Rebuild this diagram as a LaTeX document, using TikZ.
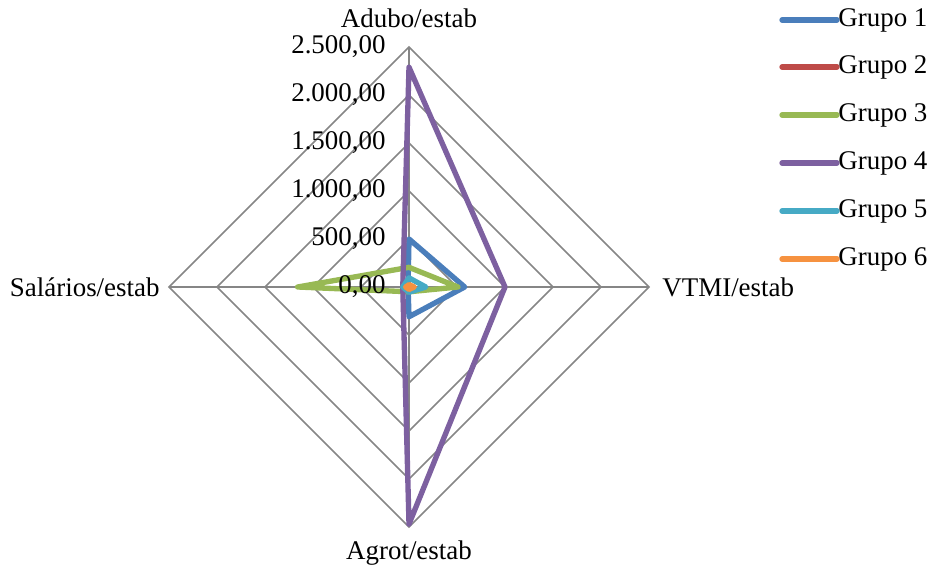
\documentclass[tikz,border=0pt]{standalone}
\usepackage{fontspec}
\setmainfont{Liberation Serif}
\usetikzlibrary{positioning}
\definecolor{gA}{HTML}{4A7EBB}
\definecolor{gB}{HTML}{BE4B48}
\definecolor{gC}{HTML}{98B954}
\definecolor{gD}{HTML}{7D60A0}
\definecolor{gE}{HTML}{46AAC5}
\definecolor{gF}{HTML}{F69240}
\definecolor{grid}{HTML}{868686}
\tikzset{gridline/.style={draw=grid,line width=0.45mm},
         serie/.style={line width=1.6mm,line join=round,line cap=round},
         lab/.style={font=\fontsize{23}{27}\selectfont,inner sep=1pt},
        }
% one series: colour, then Adubo, VTMI, Agrot, Salarios
\newcommand{\radarserie}[5]{%
  \draw[serie,#1](0,#2*0.096)--(#3*0.096,0)--(0,-#4*0.096)--(-#5*0.096,0)--cycle;}

\begin{document}
\begin{tikzpicture}[x=0.3mm,y=0.3mm]
        \useasboundingbox(-409,-282)rectangle(525,287);
        % grid
        \foreach \r in {48,96,...,240}
          \draw[gridline](0,\r)--(\r,0)--(0,-\r)--(-\r,0)--cycle;
        \coordinate(c)at(0,0);
        \coordinate(top)at(0,240);
        \coordinate(right)at(240,0);
        \coordinate(bot)at(0,-240);
        \coordinate(left)at(-240,0);
        \draw[gridline](c)--(top);
        \draw[gridline](c)--(right);
        \draw[gridline](c)--(bot);
        \draw[gridline](c)--(left);

        % series
        \radarserie{gA}{500}{580}{310}{10}
        \radarserie{gB}{15}{15}{15}{15}
        \radarserie{gC}{205}{510}{50}{1160}
        \radarserie{gD}{2290}{1000}{2470}{65}
        \radarserie{gE}{95}{175}{55}{65}
        \radarserie{gF}{25}{55}{25}{35}

        % scale
        \foreach \t [count=\i from 0] in {{0,00},{500,00},{1.000,00},{1.500,00},{2.000,00},{2.500,00}}
          \node[lab,anchor=east](t\i)at(-22,\i*48){\t};

        % axes
        \node[lab](adubo)at(0,269){Adubo/estab};
        \node[lab,anchor=west](vtmi)at(252,0){VTMI/estab};
        \node[lab](agrot)at(0,-266){Agrot/estab};
        \node[lab,anchor=east](sal)at(-248,0){Salários/estab};

        % legend
        \foreach \col/\y [count=\i] in {gA/267,gB/220,gC/172,gD/124,gE/76,gF/28}{
          \coordinate(l\i)at(373,\y);
          \node[lab,anchor=west](g\i)at(428,\y){Grupo \i};
          \draw[serie,\col](l\i)--(g\i.west);
        }
    \end{tikzpicture}
\end{document}
